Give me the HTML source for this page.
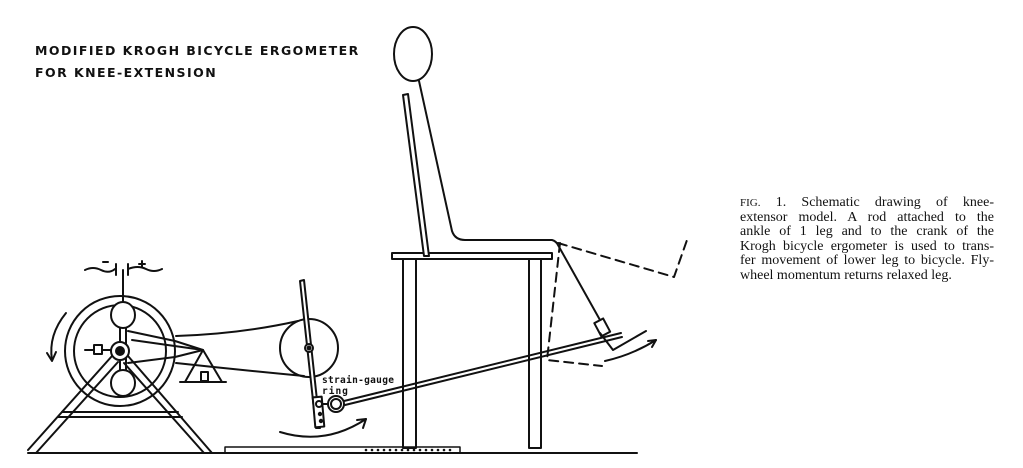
<!DOCTYPE html>
<html><head><meta charset="utf-8"><style>
html,body{margin:0;padding:0;background:#fff;}
body{width:1023px;height:468px;position:relative;overflow:hidden;}
.t{position:absolute;left:35px;font-family:"DejaVu Sans","Liberation Sans",sans-serif;font-weight:bold;font-size:12.5px;letter-spacing:1.45px;color:#111;line-height:22px;top:40px;}
.c{position:absolute;left:740px;top:196px;width:254px;font-family:"Liberation Serif",serif;font-size:14px;line-height:14.6px;color:#111;}
.c div{text-align:justify;text-align-last:justify;white-space:nowrap;}
.c div.l{text-align-last:left;}
</style></head><body>
<div class="t">MODIFIED KROGH BICYCLE ERGOMETER<br>FOR KNEE-EXTENSION</div>
<div class="c">
<div><span style="font-size:11px">FIG.</span> 1. Schematic drawing of knee-</div>
<div>extensor model. A rod attached to the</div>
<div>ankle of 1 leg and to the crank of the</div>
<div>Krogh bicycle ergometer is used to trans-</div>
<div>fer movement of lower leg to bicycle. Fly-</div>
<div class="l">wheel momentum returns relaxed leg.</div>
</div>
<svg width="1023" height="468" style="position:absolute;left:0;top:0" fill="none" stroke="#111" stroke-width="2" stroke-linecap="round" stroke-linejoin="round">
<line x1="28" y1="453" x2="637" y2="453"/>
<rect x="225" y="447" width="235" height="6" stroke-width="1.5"/>
<g fill="#111" stroke="none">
<circle cx="366" cy="450" r="1.3"/><circle cx="372" cy="450" r="1.3"/><circle cx="378" cy="450" r="1.3"/><circle cx="384" cy="450" r="1.3"/><circle cx="390" cy="450" r="1.3"/><circle cx="396" cy="450" r="1.3"/><circle cx="402" cy="450" r="1.3"/><circle cx="408" cy="450" r="1.3"/><circle cx="414" cy="450" r="1.3"/><circle cx="420" cy="450" r="1.3"/><circle cx="426" cy="450" r="1.3"/><circle cx="432" cy="450" r="1.3"/><circle cx="438" cy="450" r="1.3"/><circle cx="444" cy="450" r="1.3"/><circle cx="450" cy="450" r="1.3"/>
</g>
<circle cx="120" cy="351" r="55"/>
<circle cx="120" cy="351" r="46"/>
<rect x="120" y="326" width="6" height="50" fill="#fff"/>
<ellipse cx="123" cy="315" rx="12" ry="13" fill="#fff"/>
<ellipse cx="123" cy="383" rx="12" ry="13" fill="#fff"/>
<line x1="123" y1="302" x2="123" y2="270"/>
<path d="M85 270 q8 -4 16 0 t14 -1 M128 269 q10 -4 18 0 t16 0"/>
<line x1="116" y1="264" x2="116" y2="275"/><line x1="128" y1="264" x2="128" y2="275"/>
<line x1="103" y1="262" x2="108" y2="262"/>
<path d="M139 264 h6 M142 261 v6"/>
<line x1="62" y1="412" x2="178" y2="412"/><line x1="58" y1="417" x2="182" y2="417"/>
<path d="M28 450 L112 356 M36 453 L118 362"/>
<path d="M128 356 L212 453 M124 363 L204 453"/>
<circle cx="120" cy="351" r="9" fill="#fff"/>
<circle cx="120" cy="351" r="4" fill="#111"/>
<line x1="85" y1="350" x2="111" y2="350"/>
<rect x="94" y="345" width="8" height="9" fill="#fff"/>
<path d="M128 331 L175 341 L203 350 L175 357 L128 363"/>
<path d="M132 340 L203 350"/>
<path d="M203 350 L185 382 L222 382 Z"/>
<line x1="180" y1="382" x2="226" y2="382"/>
<rect x="201" y="372" width="7" height="9"/>
<path d="M176 336 Q240 334 298 321"/>
<path d="M176 363 Q240 370 304 376"/>
<circle cx="309" cy="348" r="29"/>
<path d="M300 281 L304 280 L320 428 L316 428 Z" fill="#fff"/>
<circle cx="309" cy="348" r="4" fill="#fff"/><circle cx="309" cy="348" r="1.5" fill="#111"/>
<rect x="314" y="397" width="9" height="30" fill="#fff" transform="rotate(-5 318 412)"/>
<circle cx="319" cy="404" r="3"/>
<circle cx="320" cy="414" r="1.2" fill="#111"/><circle cx="321" cy="421" r="1.2" fill="#111"/>
<circle cx="336" cy="404" r="8"/>
<circle cx="336" cy="404" r="5"/>
<line x1="323" y1="404" x2="328" y2="404"/>
<path d="M344 401 L621 333 M345 405 L622 337"/>
<path d="M280 432 Q325 446 366 419"/>
<path d="M357 420 L366 419 L363 428"/>
<path d="M66 313 Q48 335 52 360"/>
<path d="M47 353 L52 361 L56 352"/>
<path d="M605 361 Q632 355 656 340"/>
<path d="M648 341 L656 340 L652 347"/>
<rect x="392" y="253" width="160" height="6" fill="#fff"/>
<rect x="403" y="259" width="13" height="189"/>
<rect x="529" y="259" width="12" height="189"/>
<path d="M403 95 L408 94 L429 256 L424 256 Z" fill="#fff"/>
<ellipse cx="413" cy="54" rx="19" ry="27"/>
<path d="M419 81 L452 231 Q455 240 465 240 L552 240 Q556 241 558 245 L600 320"/>
<rect x="597" y="320" width="10" height="15" fill="#fff" transform="rotate(-28 602 327)"/>
<path d="M600 333 L613 350 L646 331"/>
<path d="M560 243 L547 360 L602 366" stroke-dasharray="9,6"/>
<path d="M558 243 L674 277 L687 240" stroke-dasharray="9,6"/>
<text x="322" y="383" fill="#111" stroke="none" font-family="DejaVu Sans Mono, Liberation Mono, monospace" font-weight="bold" font-size="9.5" letter-spacing="0.3">strain-gauge</text>
<text x="322" y="394" fill="#111" stroke="none" font-family="DejaVu Sans Mono, Liberation Mono, monospace" font-weight="bold" font-size="9.5" letter-spacing="1">ring</text>
</svg>
</body></html>
